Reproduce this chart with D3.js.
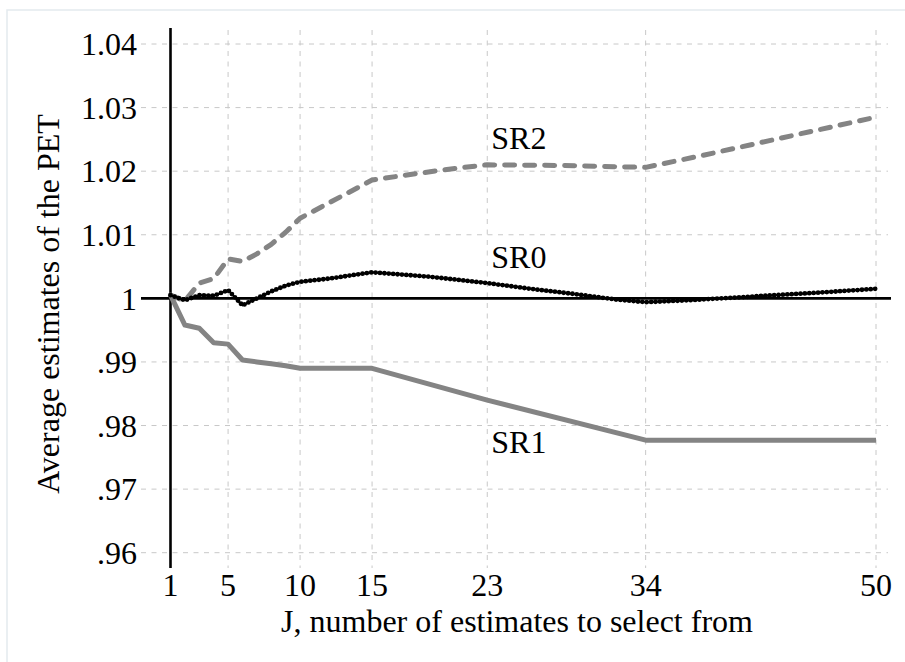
<!DOCTYPE html>
<html>
<head>
<meta charset="utf-8">
<script src="https://cdn.jsdelivr.net/npm/d3@7"></script>
<style>
  body { margin: 0; background: #fff; }
</style>
</head>
<body>
<div id="chart"></div>
<script>
// x positions of the ticks and the grid
const xTicks = [1, 5, 10, 15, 23, 34, 50];
const yTicks = [0.96, 0.97, 0.98, 0.99, 1, 1.01, 1.02, 1.03, 1.04];

// SR0 (black dotted)
const sr0J = [1, 2, 3, 4, 5, 6, 7, 8, 9, 10, 12, 15, 19, 23, 26, 29, 32, 34, 37, 40, 43, 46, 50];
const sr0V = [1.0005, 0.9997, 1.0005, 1.0004, 1.0013, 0.9989, 1.0000, 1.0011, 1.0020, 1.0026, 1.0031, 1.0041, 1.0034, 1.0024, 1.0015, 1.0007, 0.9998, 0.9994, 0.9997, 1.0001, 1.0005, 1.0009, 1.0015];

// SR1 (gray solid)
const sr1J = [1, 2, 3, 4, 5, 6, 7, 8, 9, 10, 15, 23, 34, 50];
const sr1V = [1.0005, 0.9958, 0.9953, 0.9930, 0.9928, 0.9903, 0.9900, 0.9897, 0.9894, 0.9890, 0.9890, 0.9840, 0.9777, 0.9777];

// SR2 (gray dashed)
const sr2J = [1, 2, 3, 4, 5, 6, 7, 8, 9, 10, 12, 15, 18, 21, 23, 28, 34, 38, 42, 46, 50];
const sr2V = [1.0005, 0.9996, 1.0024, 1.0031, 1.0062, 1.0058, 1.0070, 1.0085, 1.0104, 1.0126, 1.0150, 1.0186, 1.0196, 1.0205, 1.0210, 1.0209, 1.0206, 1.0225, 1.0245, 1.0265, 1.0285];

const seriesLabels = [
  { name: "SR2", j: 23, v: 1.0235 },
  { name: "SR0", j: 23, v: 1.0047 },
  { name: "SR1", j: 23, v: 0.9757 }
];

const FONT = "'Liberation Serif', Tinos, 'Times New Roman', 'DejaVu Serif', serif";

const W = 905, H = 662;
const svg = d3.select("#chart").append("svg")
  .attr("width", W)
  .attr("height", H)
  .attr("font-family", FONT);

// light outer frame
svg.append("rect")
  .attr("x", 7).attr("y", 10)
  .attr("width", 940).attr("height", 700)
  .attr("fill", "none")
  .attr("stroke", "#e4eaee")
  .attr("stroke-width", 1.5);

const x = d3.scaleLinear().domain([1, 50]).range([170.5, 876]);
const y = d3.scaleLinear().domain([0.96, 1.04]).range([552.7, 44]);

const gridLeft = 141, gridRight = 888, gridTop = 30, gridBottom = 568;

// horizontal grid
svg.append("g").selectAll("line")
  .data(yTicks.filter(d => d !== 1))
  .enter().append("line")
  .attr("x1", gridLeft).attr("x2", gridRight)
  .attr("y1", d => y(d)).attr("y2", d => y(d))
  .attr("stroke", "#c8c8c8")
  .attr("stroke-width", 1)
  .attr("stroke-dasharray", "5,5.5");

// vertical grid
svg.append("g").selectAll("line")
  .data(xTicks.filter(d => d !== 1))
  .enter().append("line")
  .attr("x1", d => x(d)).attr("x2", d => x(d))
  .attr("y1", gridTop).attr("y2", gridBottom)
  .attr("stroke", "#c8c8c8")
  .attr("stroke-width", 1)
  .attr("stroke-dasharray", "5,5.5");

// reference line at 1
svg.append("line")
  .attr("x1", gridLeft).attr("x2", 891)
  .attr("y1", y(1)).attr("y2", y(1))
  .attr("stroke", "#000")
  .attr("stroke-width", 2.6);

// y axis line
svg.append("line")
  .attr("x1", x(1)).attr("x2", x(1))
  .attr("y1", 28).attr("y2", 568)
  .attr("stroke", "#000")
  .attr("stroke-width", 2.6);

// y tick labels
const fmtY = d => d === 1 ? "1" : (d < 1 ? d3.format(".2f")(d).replace(/^0/, "") : d3.format(".2f")(d));
svg.append("g").selectAll("text")
  .data(yTicks)
  .enter().append("text")
  .attr("x", 137)
  .attr("y", d => y(d))
  .attr("dy", "0.35em")
  .attr("text-anchor", "end")
  .attr("font-family", FONT)
  .attr("font-size", 32)
  .text(fmtY);

// x tick labels
svg.append("g").selectAll("text")
  .data(xTicks)
  .enter().append("text")
  .attr("x", d => x(d))
  .attr("y", 596)
  .attr("text-anchor", "middle")
  .attr("font-family", FONT)
  .attr("font-size", 32)
  .text(d => d);

// axis titles
svg.append("text")
  .attr("x", 517).attr("y", 632)
  .attr("text-anchor", "middle")
  .attr("font-family", FONT)
  .attr("font-size", 32)
  .text("J, number of estimates to select from");

svg.append("text")
  .attr("transform", "translate(59,304) rotate(-90)")
  .attr("text-anchor", "middle")
  .attr("font-family", FONT)
  .attr("font-size", 32)
  .text("Average estimates of the PET");

const line = d3.line().x(d => x(d[0])).y(d => y(d[1]));
const sr0 = sr0J.map((j, i) => [j, sr0V[i]]);
const sr1 = sr1J.map((j, i) => [j, sr1V[i]]);
const sr2 = sr2J.map((j, i) => [j, sr2V[i]]);

// SR1 solid gray
svg.append("path")
  .datum(sr1)
  .attr("d", line)
  .attr("fill", "none")
  .attr("stroke", "#848484")
  .attr("stroke-width", 5)
  .attr("stroke-linejoin", "round");

// SR2 dashed gray
svg.append("path")
  .datum(sr2)
  .attr("d", line)
  .attr("fill", "none")
  .attr("stroke", "#848484")
  .attr("stroke-width", 5)
  .attr("stroke-linecap", "round")
  .attr("stroke-linejoin", "round")
  .attr("stroke-dasharray", "10,10");

// SR0 black dotted
svg.append("path")
  .datum(sr0)
  .attr("d", line)
  .attr("fill", "none")
  .attr("stroke", "#000")
  .attr("stroke-width", 2);
svg.append("path")
  .datum(sr0)
  .attr("d", line)
  .attr("fill", "none")
  .attr("stroke", "#000")
  .attr("stroke-width", 4.8)
  .attr("stroke-linecap", "round")
  .attr("stroke-dasharray", "0,4.4");

// series labels
svg.append("g").selectAll("text")
  .data(seriesLabels)
  .enter().append("text")
  .attr("x", d => x(d.j) + 4)
  .attr("y", d => y(d.v))
  .attr("font-family", FONT)
  .attr("font-size", 32)
  .text(d => d.name);
</script>
</body>
</html>
